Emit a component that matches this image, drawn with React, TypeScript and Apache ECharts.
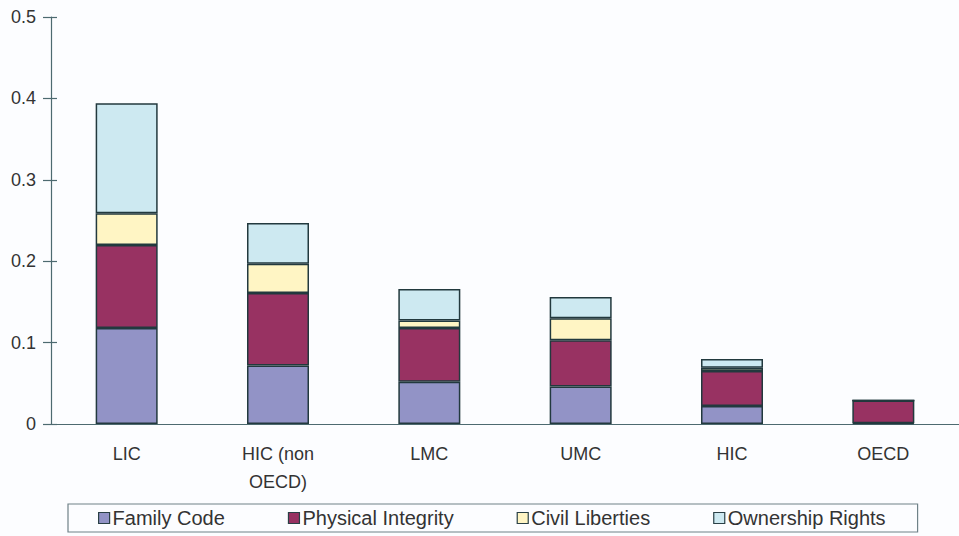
import React, { useEffect, useRef } from "react";
import * as echarts from "echarts";

const categories = ["LIC", "HIC (non\nOECD)", "LMC", "UMC", "HIC", "OECD"];
const seriesNames = ["Family Code", "Physical Integrity", "Civil Liberties", "Ownership Rights"];
const familyCode = [0.118, 0.072, 0.052, 0.046, 0.022, 0.001];
const physicalIntegrity = [0.102, 0.089, 0.066, 0.057, 0.043, 0.028];
const civilLiberties = [0.039, 0.036, 0.009, 0.027, 0.004, 0.0];
const ownershipRights = [0.135, 0.050, 0.039, 0.026, 0.011, 0.0];
const yTicks = [0, 0.1, 0.2, 0.3, 0.4, 0.5];

const colors = ["#9293c6", "#983262", "#fff5c4", "#cde9f1"];
const FONT = "Liberation Sans";

export default function App() {
  const ref = useRef<HTMLDivElement>(null);
  useEffect(() => {
    if (!ref.current) return;
    const chart = echarts.init(ref.current, null, { renderer: "svg" });
    const data = [familyCode, physicalIntegrity, civilLiberties, ownershipRights];
    chart.setOption({
      animation: false,
      backgroundColor: "#fcfdff",
      grid: { left: 51, width: 914, top: 17, height: 407, containLabel: false },
      legend: {
        data: seriesNames,
        top: 504,
        left: 68,
        itemWidth: 11,
        itemHeight: 11,
        itemGap: 63,
        padding: [4, 32, 4, 30],
        borderColor: "#6f8288",
        borderWidth: 1.2,
        icon: "rect",
        textStyle: { fontFamily: FONT, fontSize: 20, color: "#333", padding: [0, 0, 0, -2] },
        itemStyle: { borderColor: "#2a4046", borderWidth: 1.2 },
      },
      xAxis: {
        type: "category",
        data: categories,
        axisLine: { lineStyle: { color: "#4d6a70", width: 1.2 } },
        axisTick: { show: false },
        axisLabel: {
          fontFamily: FONT,
          fontSize: 18,
          color: "#333",
          margin: 16,
          lineHeight: 28,
          interval: 0,
        },
      },
      yAxis: [
        {
          type: "value",
          min: yTicks[0],
          max: yTicks[yTicks.length - 1],
          interval: 0.1,
          splitLine: { show: false },
          axisLine: { show: true, lineStyle: { color: "#4d6a70", width: 1.2 } },
          axisTick: { show: true, length: 8, lineStyle: { color: "#4d6a70", width: 1.2 } },
          axisLabel: {
            fontFamily: FONT,
            fontSize: 18,
            color: "#333",
            margin: 15,
            formatter: (v: number) => (v === 0 ? "0" : v.toFixed(1)),
          },
        },
        {
          type: "value",
          position: "left",
          min: yTicks[0],
          max: yTicks[yTicks.length - 1],
          interval: 0.1,
          splitLine: { show: false },
          axisLine: { show: false },
          axisLabel: { show: false },
          axisTick: { show: true, inside: true, length: 6, lineStyle: { color: "#4d6a70", width: 1.2 } },
        },
      ],
      series: seriesNames.map((name, i) => ({
        name,
        type: "bar",
        stack: "total",
        barWidth: 62,
        data: data[i],
        itemStyle: { color: colors[i], borderColor: "#22393e", borderWidth: 1.5 },
      })),
    });
    return () => chart.dispose();
  }, []);
  return (
    <div
      ref={ref}
      style={{ position: "fixed", left: 0, top: 0, width: 959, height: 536, overflow: "hidden" }}
    />
  );
}
